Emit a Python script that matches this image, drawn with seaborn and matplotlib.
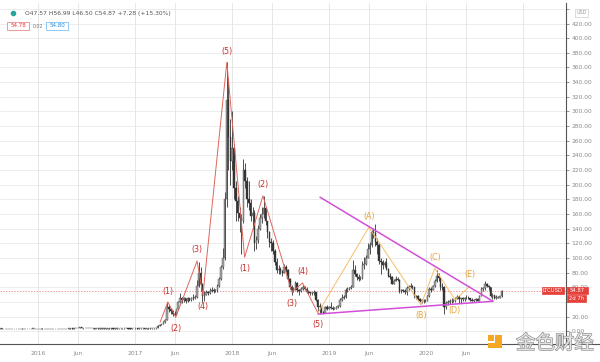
import pandas as pd
import seaborn as sns
import matplotlib
matplotlib.use("Agg")
import matplotlib.pyplot as plt
import matplotlib.dates as mdates
import matplotlib.patheffects as pe
from matplotlib.patches import Rectangle
from matplotlib.lines import Line2D

# Weekly LTC/USD candles, week of 2015-08-10 to week of 2020-10-12
first_open = 4.1

close_2015 = [3.9, 3.0, 2.9, 2.9,  2.9, 2.9, 2.9, 2.9,  3.0, 3.0, 3.1, 3.3,
              3.6, 3.3, 3.2, 3.3, 3.4,  3.6, 3.6, 3.5, 3.5]
high_2015 = [4.3, 4.0, 3.1, 3.1,  3.0, 3.0, 3.0, 3.0,  3.1, 3.1, 3.2, 3.4,
             4.8, 3.8, 3.4, 3.4, 3.5,  3.7, 3.8, 3.7, 3.6]
low_2015 = [3.6, 2.6, 2.7, 2.8,  2.8, 2.8, 2.8, 2.8,  2.9, 2.9, 3.0, 3.0,
            3.2, 3.2, 3.1, 3.1, 3.2,  3.3, 3.4, 3.3, 3.3]

close_2016 = [3.5, 3.8, 3.4, 3.2,  3.4, 3.3, 3.4, 3.2, 3.1,  3.2, 3.3, 3.3, 3.3,
              3.4, 3.5, 3.7, 3.7,  3.8, 3.7, 4.0, 4.5, 4.8,  5.4, 4.7, 4.2, 4.1,
              4.2, 4.1, 4.1, 3.9,  3.7, 3.7, 3.8, 3.8, 3.8,  3.8, 3.8, 3.8, 3.8,
              3.9, 3.8, 3.8, 3.9, 3.9,  3.9, 3.9, 4.0, 4.1,  3.8, 3.7, 4.3, 4.4]
high_2016 = [3.7, 4.1, 3.9, 3.5,  3.5, 3.5, 3.5, 3.5, 3.3,  3.3, 3.4, 3.4, 3.4,
             3.5, 3.6, 3.8, 3.9,  3.9, 3.9, 4.1, 4.7, 5.0,  6.3, 5.5, 4.8, 4.3,
             4.4, 4.3, 4.2, 4.1,  3.9, 3.8, 3.9, 3.9, 3.9,  3.9, 3.9, 3.9, 3.9,
             4.0, 3.9, 3.9, 4.0, 4.0,  4.0, 4.0, 4.1, 4.2,  4.1, 3.9, 4.4, 4.6]
low_2016 = [3.4, 3.4, 3.3, 3.0,  3.1, 3.2, 3.2, 3.1, 3.0,  3.0, 3.1, 3.2, 3.2,
            3.2, 3.3, 3.4, 3.6,  3.6, 3.6, 3.6, 3.9, 4.4,  4.7, 4.1, 3.8, 3.9,
            4.0, 3.9, 3.9, 3.7,  3.5, 3.6, 3.6, 3.7, 3.7,  3.7, 3.7, 3.7, 3.7,
            3.7, 3.7, 3.7, 3.7, 3.8,  3.7, 3.8, 3.8, 3.9,  3.6, 3.5, 3.6, 4.2]

close_2017 = [4.2, 3.8, 3.9, 3.9, 3.9,  3.8, 3.8, 3.8, 3.9,  3.9, 3.9, 4.3, 7.5,
              9.0, 10.0, 13.0, 15.5,  33, 30, 28, 24, 22,  30, 40, 46, 43,
              45, 42, 45, 43, 45,  46, 47, 62, 80,  65, 48, 50, 53,
              52, 55, 57, 55, 56,  62, 72, 88, 100,  180, 315, 265, 232]
high_2017 = [4.5, 4.3, 4.0, 4.0, 4.0,  4.0, 3.9, 3.9, 4.0,  4.0, 4.0, 4.4, 8.0,
             9.5, 10.5, 13.5, 16.5,  40, 36, 31, 29, 28,  31, 41, 52, 47,
             47, 46, 47, 46, 47,  51, 49, 70, 95,  88, 66, 55, 56,
             55, 59, 60, 59, 58,  64, 74, 90, 114,  190, 367, 345, 290]
low_2017 = [3.8, 3.6, 3.7, 3.8, 3.7,  3.7, 3.7, 3.7, 3.7,  3.7, 3.7, 3.8, 4.2,
            6.8, 8.0, 9.5, 12.0,  15, 26, 24, 21, 19,  22, 29, 38, 38,
            40, 38, 40, 41, 41,  43, 44, 46, 60,  55, 40, 42, 49,
            50, 51, 53, 52, 54,  54, 60, 70, 85,  98, 170, 220, 200]

close_2018 = [250, 195, 178, 162, 155,  150, 220, 205, 180,  175, 158, 162, 120,
              125, 140, 155, 160, 168,  150, 135, 122, 120,  110, 95, 84, 85,
              82, 80, 88, 84, 72,  60, 57, 58, 66,  56, 55, 58, 61,
              58, 53, 53, 52, 52,  53, 43, 33, 34,  27, 25, 33, 31, 33]
high_2018 = [300, 255, 205, 185, 170,  160, 235, 230, 210,  205, 180, 170, 165,
             130, 145, 160, 170, 185,  170, 150, 137, 128,  125, 112, 100, 90,
             88, 84, 92, 91, 85,  73, 63, 60, 68,  67, 58, 60, 63,
             62, 60, 56, 54, 54,  56, 54, 44, 38,  34, 28, 35, 36, 35]
low_2018 = [220, 180, 150, 150, 135,  106, 148, 195, 170,  165, 150, 140, 110,
            112, 120, 138, 148, 155,  145, 128, 115, 110,  106, 90, 80, 78,
            78, 76, 79, 81, 70,  58, 50, 53, 57,  53, 50, 54, 57,
            56, 52, 51, 50, 50,  50, 41, 28, 24,  25, 23, 25, 29, 30]

close_2019 = [32, 31, 31, 33,  34, 43, 46, 47,  56, 58, 59, 61,
              83, 78, 74, 72, 73,  90, 92, 100, 113,  118, 135, 134, 122,
              118, 96, 94, 90, 93,  85, 76, 74, 65,  69, 72, 70, 55, 56,
              55, 53, 59, 60,  62, 60, 48, 48,  44, 42, 42, 41, 42]
high_2019 = [40, 34, 33, 34,  36, 46, 51, 49,  59, 61, 61, 63,
             97, 90, 80, 78, 76,  96, 102, 104, 120,  122, 138, 141, 146,
             128, 121, 100, 97, 96,  100, 87, 80, 75,  72, 75, 74, 71, 58,
             58, 58, 62, 63,  66, 63, 60, 50,  49, 45, 44, 44, 44]
low_2019 = [30, 29, 30, 30,  32, 33, 42, 44,  46, 54, 57, 58,
            60, 75, 70, 68, 70,  72, 85, 90, 100,  105, 115, 128, 117,
            106, 92, 78, 85, 88,  83, 74, 71, 64,  64, 68, 68, 52, 52,
            53, 51, 50, 57,  59, 58, 46, 44,  42, 40, 39, 38, 40]

close_2020 = [48, 58, 57, 62,  68, 76, 73, 60,  61, 33, 38, 40, 41,
              42, 42, 45, 47,  44, 45, 44, 46,  45, 46, 43, 42, 43,
              44, 42, 48, 58,  59, 64, 62, 60, 48,  50, 46, 46, 46,  47.57, 54.87]
high_2020 = [49, 60, 60, 63,  72, 84, 80, 74,  66, 62, 42, 43, 44,
             46, 44, 46, 50,  50, 46, 47, 47,  49, 48, 46, 45, 44,
             45, 45, 49, 60,  61, 68, 66, 63, 61,  52, 49, 49, 48,  48.5, 56.99]
low_2020 = [41, 47, 54, 56,  61, 67, 68, 57,  57, 24, 31, 36, 37,
            38, 40, 40, 44,  39, 38, 42, 42,  44, 44, 41, 41, 40,
            42, 41, 41, 48,  55, 57, 60, 57, 47,  44, 44, 44, 45,  45, 46.5]

# Elliott wave zigzag (red), corrective triangle (orange), triangle bounds (magenta)
red_dates = ["2017-04-05", "2017-05-04", "2017-06-03", "2017-08-22", "2017-09-13", "2017-12-12",
             "2018-02-17", "2018-04-27", "2018-08-14", "2018-09-23", "2018-11-20"]
red_values = [12.7, 40, 19.5, 96, 49.5, 367, 101, 185, 53.6, 66, 25]
red_labels = ["", "(1)", "(2)", "(3)", "(4)", "(5)", "(1)", "(2)", "(3)", "(4)", "(5)"]

orange_dates = ["2018-11-20", "2019-05-31", "2019-12-13", "2020-02-03", "2020-04-19", "2020-06-15"]
orange_values = [25, 142, 36, 86, 43, 62]
orange_labels = ["", "(A)", "(B)", "(C)", "(D)", "(E)"]

upper_dates = ["2018-11-28", "2020-09-09"]
upper_values = [183, 41]
lower_dates = ["2018-11-20", "2020-09-09"]
lower_values = [23.6, 41]

last_price = 54.87
tick_dates = ["2016-01-01", "2016-06-01", "2017-01-01", "2017-06-01", "2018-01-01",
              "2018-06-01", "2019-01-01", "2019-06-01", "2020-01-01", "2020-06-01"]
tick_labels = ["2016", "Jun", "2017", "Jun", "2018", "Jun", "2019", "Jun", "2020", "Jun"]
y_ticks = list(range(0, 460, 20))
hidden_y_labels = [40, 440]  # covered by the price / currency boxes

sns.set_style("white")
plt.rcParams["font.family"] = ["DejaVu Sans", "Noto Sans CJK SC"]

W, H = 600, 362


def fx(px):
    return px / W


def fy(py):
    return 1 - py / H


closes = close_2015 + close_2016 + close_2017 + close_2018 + close_2019 + close_2020
highs = high_2015 + high_2016 + high_2017 + high_2018 + high_2019 + high_2020
lows = low_2015 + low_2016 + low_2017 + low_2018 + low_2019 + low_2020
opens = [first_open] + closes[:-1]
dates = pd.date_range("2015-08-10", periods=len(closes), freq="7D")

candles = pd.DataFrame({"x": mdates.date2num(dates), "open": opens, "high": highs,
                        "low": lows, "close": closes})
up = candles[candles["close"] >= candles["open"]]
down = candles[candles["close"] < candles["open"]]

fig = plt.figure(figsize=(6, 3.62), dpi=100)
ax = fig.add_axes([0, fy(344), fx(566), (344 - 3) / H])

# grid
for v in y_ticks:
    ax.axhline(v, color="#e9e9e9", lw=0.6, zorder=0)
grid_x = [mdates.date2num(pd.Timestamp(d)) for d in tick_dates + ["2021-01-01"]]
for gx in grid_x:
    ax.axvline(gx, color="#e3e3e3", lw=0.6, zorder=0)

ax.axhline(last_price, color="#e57373", lw=0.5, ls=(0, (2, 2)), zorder=1)

# candles
ax.vlines(candles["x"], candles["low"], candles["high"], color="#333333", lw=0.6, zorder=3)
ax.bar(up["x"], (up["close"] - up["open"]).clip(lower=0.3), bottom=up["open"], width=5.5,
       color="#a6a6a6", edgecolor="#4a4a4a", linewidth=0.3, zorder=4)
ax.bar(down["x"], (down["open"] - down["close"]).clip(lower=0.3), bottom=down["close"],
       width=5.5, color="#333333", edgecolor="#333333", linewidth=0.3, zorder=4)


def wave_frame(ds, vs):
    return pd.DataFrame({"x": mdates.date2num(pd.to_datetime(ds)), "value": vs})


red_df = wave_frame(red_dates, red_values)
orange_df = wave_frame(orange_dates, orange_values)
upper_df = wave_frame(upper_dates, upper_values)
lower_df = wave_frame(lower_dates, lower_values)

sns.lineplot(data=red_df, x="x", y="value", color="#e0655a", lw=0.7, sort=False,
             estimator=None, ax=ax, zorder=5)
sns.lineplot(data=orange_df, x="x", y="value", color="#f6bd6a", lw=0.7, sort=False,
             estimator=None, ax=ax, zorder=5)
sns.lineplot(data=upper_df, x="x", y="value", color="#d24fd8", lw=1.1, sort=False,
             estimator=None, ax=ax, zorder=6)
sns.lineplot(data=lower_df, x="x", y="value", color="#d24fd8", lw=1.1, sort=False,
             estimator=None, ax=ax, zorder=6)


def wave_labels(df, labels, color):
    vals = df["value"].tolist()
    for i, lab in enumerate(labels):
        if not lab:
            continue
        prev_v = vals[i - 1] if i > 0 else vals[i]
        peak = vals[i] > prev_v
        off = 11 if peak else -11
        ax.annotate(lab, (df["x"].iloc[i], vals[i]), xytext=(0, off),
                    textcoords="offset pixels", ha="center", va="center",
                    fontsize=5.8, color=color, zorder=7)


wave_labels(red_df, red_labels, "#c9302c")
wave_labels(orange_df, orange_labels, "#e9a23b")

ax.set_xlim(mdates.date2num(pd.Timestamp("2015-08-11")), mdates.date2num(pd.Timestamp("2021-06-11")))
ax.set_ylim(-17.3, 448)
ax.set_xticks([mdates.date2num(pd.Timestamp(d)) for d in tick_dates])
ax.set_xticklabels(tick_labels)
ax.set_yticks(y_ticks)
ax.set_yticklabels(["" if v in hidden_y_labels else f"{v:.2f}" for v in y_ticks])
ax.yaxis.tick_right()
ax.tick_params(axis="y", length=2, width=0.5, color="#666", pad=2, labelsize=4.3,
               labelcolor="#8a8a8a")
ax.tick_params(axis="x", length=0, pad=5, labelsize=4.3, labelcolor="#8a8a8a")
ax.set_xlabel("")
ax.set_ylabel("")
for side in ["top", "left"]:
    ax.spines[side].set_visible(False)
for side in ["bottom", "right"]:
    ax.spines[side].set_color("#555555")
    ax.spines[side].set_linewidth(0.8)
fig.add_artist(Line2D([fx(566), 1], [fy(344), fy(344)], color="#555555", lw=0.8,
                      transform=fig.transFigure))


def box(x0, y0, x1, y1, text, fc, ec, tc, size=3.8):
    fig.add_artist(Rectangle((fx(x0), fy(y1)), fx(x1 - x0), (y1 - y0) / H,
                             transform=fig.transFigure, facecolor=fc, edgecolor=ec,
                             linewidth=0.5, zorder=10))
    fig.text(fx((x0 + x1) / 2), fy((y0 + y1) / 2), text, ha="center", va="center",
             fontsize=size, color=tc, zorder=11)


# price boxes on the right
box(541.5, 286.5, 563.5, 293.5, "LTCUSD", "#e5413a", "#e5413a", "white")
box(567, 286.5, 588, 293.5, "54.87", "#e5413a", "#e5413a", "white")
box(567, 295, 586, 302, "2d 7h", "#e5413a", "#e5413a", "white")
box(575, 8.5, 588, 16.5, "USD", "white", "#cccccc", "#999999", size=3.5)

# header
fig.add_artist(Line2D([fx(13.3)], [fy(13.3)], marker="o", ms=3, color="#26a69a",
                      transform=fig.transFigure))
fig.text(fx(25), fy(14), "O47.57 H56.99 L46.50 C54.87 +7.28 (+15.30%)", ha="left",
         va="center", fontsize=4.3, color="#555555")
box(6.7, 21.7, 29.3, 30, "54.78", "white", "#e57373", "#e53935", size=4.0)
fig.text(fx(38), fy(26), "0.02", ha="center", va="center", fontsize=3.4, color="#777777")
box(46, 21.7, 68.3, 30, "54.80", "white", "#64b5f6", "#1e88e5", size=4.0)

# watermark
for (x0, y0, x1, y1) in [(488, 335, 493.5, 340.5), (495, 335, 502, 348), (488, 342.5, 502, 348)]:
    fig.add_artist(Rectangle((fx(x0), fy(y1)), fx(x1 - x0), (y1 - y0) / H,
                             transform=fig.transFigure, facecolor="#f5a623",
                             edgecolor="none", zorder=12))
fig.text(fx(555), fy(343.5), "金色财经", ha="center", va="center", fontsize=14,
         family=["Noto Sans CJK SC", "DejaVu Sans"], color="#e4e4e4", zorder=12,
         path_effects=[pe.withStroke(linewidth=0.9, foreground="#8c8c8c")])

fig.savefig("out.png", dpi=100)
